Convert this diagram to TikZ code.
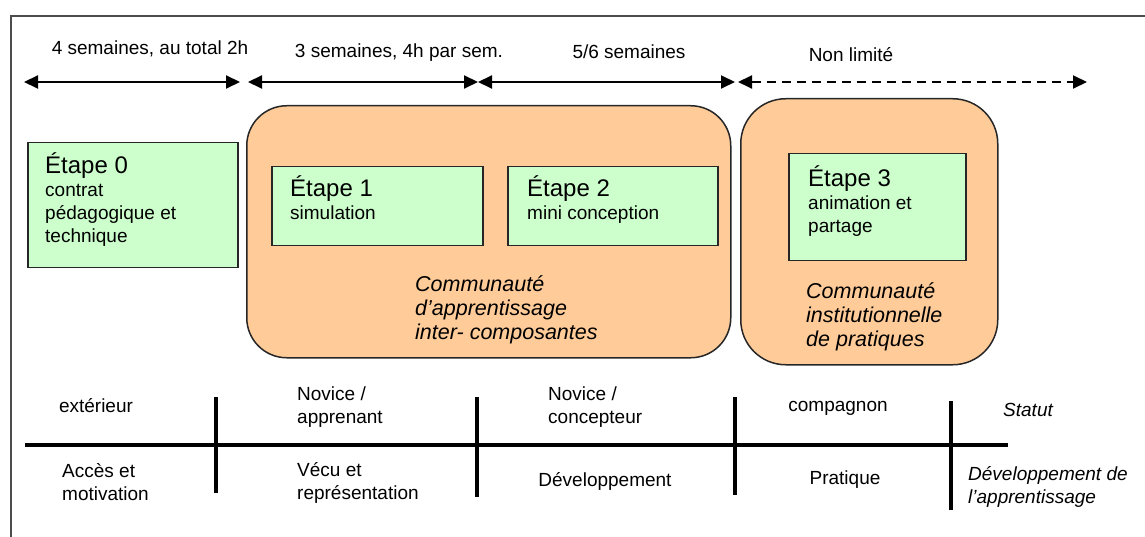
\documentclass[tikz,border=0pt]{standalone}
\usepackage{fontspec}
\setmainfont{Liberation Sans}
\usetikzlibrary{arrows.meta,positioning}
\definecolor{vertetape}{RGB}{204,255,204}
\definecolor{orangecomm}{RGB}{255,204,153}
\newcommand\petit{\fontsize{19}{23}\selectfont}
\newcommand\grand{\fontsize{24}{23}\selectfont}
\newcommand\moyen{\fontsize{21.5}{24}\selectfont\itshape}
\tikzset{
  duree/.style={line width=2pt,{Triangle[length=14pt,width=13pt]}-{Triangle[length=14pt,width=13pt]}},
  etape/.style={draw=black!85,line width=1.5pt,fill=vertetape,anchor=north west},
  communaute/.style={draw=black!85,line width=1.5pt,fill=orangecomm,anchor=north west},
  trait/.style={line width=3.5pt},
  txt/.style={inner sep=0pt,font=\petit,align=left,anchor=base west},
  comm/.style={inner sep=0pt,font=\moyen,align=left,anchor=base west},
}
\begin{document}
\begin{tikzpicture}[x=1pt,y=-1pt]
  \useasboundingbox (0,0) rectangle (1145,537);
  % cadre
  \draw[line width=2pt,black!70] (11,537) -- (11,16) -- (1145,16);
  % durees
  \coordinate (d0) at (24,82);
  \coordinate (d1) at (240,82);
  \coordinate (d2) at (248,82);
  \coordinate (d3) at (478,82);
  \coordinate (d4) at (478,82);
  \coordinate (d5) at (735,82);
  \coordinate (d6) at (738,82);
  \coordinate (d7) at (1087,82);
  \draw[duree] (d0) -- (d1);
  \draw[duree] (d2) -- (d3);
  \draw[duree] (d4) -- (d5);
  \draw[duree,dash pattern=on 9pt off 6pt] (d6) -- (d7);
  \node[txt,anchor=base] (s0) at (150,55) {4 semaines, au total 2h};
  \node[txt,anchor=base] (s1) at (399,58) {3 semaines, 4h par sem.};
  \node[txt,anchor=base] (s2) at (629,59) {5/6 semaines};
  \node[txt,anchor=base] (s3) at (851,62) {Non limité};
  % communautes
  \node[communaute,rounded corners=40pt,minimum width=484pt,minimum height=252pt] (c1) at (246,105) {};
  \node[communaute,rounded corners=45pt,minimum width=257pt,minimum height=266pt] (c2) at (740,98) {};
  % etapes (base = derniere ligne)
  \node[etape,minimum width=210pt,minimum height=125pt] (e0) at (27,142) {};
  \node[etape,minimum width=211pt,minimum height=79pt] (e1) at (271,166) {};
  \node[etape,minimum width=210pt,minimum height=79pt] (e2) at (507,166) {};
  \node[etape,minimum width=177pt,minimum height=107pt] (e3) at (788,153) {};
  \node[txt] (t0) at (45,242.5) {{\grand Étape 0}\\contrat\\pédagogique et\\technique};
  \node[txt] (t1) at (290,220) {{\grand Étape 1}\\simulation};
  \node[txt] (t2) at (527,220) {{\grand Étape 2}\\mini conception};
  \node[txt] (t3) at (808,233) {{\grand Étape 3}\\animation et\\partage};
  \node[comm] (k1) at (415,339) {Communauté\\d’apprentissage\\inter- composantes};
  \node[comm] (k2) at (806,346) {Communauté\\institutionnelle\\de pratiques};
  % statut / developpement
  \coordinate (h0) at (25,445);
  \coordinate (h1) at (1008,445);
  \draw[trait] (h0) -- (h1);
  \foreach \x/\a/\b in {216/397/493,477/397/497,735/397/495,951/401/510}
    \draw[trait] (\x,\a) -- (\x,\b);
  \node[txt,anchor=base] (a0) at (96,412) {extérieur};
  \node[txt] (a1) at (297,423) {Novice /\\apprenant};
  \node[txt] (a2) at (548,423) {Novice /\\concepteur};
  \node[txt,anchor=base] (a3) at (838,411) {compagnon};
  \node[txt,font=\petit\itshape] (a4) at (1003,416) {Statut};
  \node[txt] (b0) at (62,500) {Accès et\\motivation};
  \node[txt] (b1) at (297,499) {Vécu et\\représentation};
  \node[txt,anchor=base] (b2) at (605,486) {Développement};
  \node[txt,anchor=base] (b3) at (845,484) {Pratique};
  \node[txt,font=\petit\itshape] (b4) at (968,503) {Développement de\\l’apprentissage};
\end{tikzpicture}
\end{document}
